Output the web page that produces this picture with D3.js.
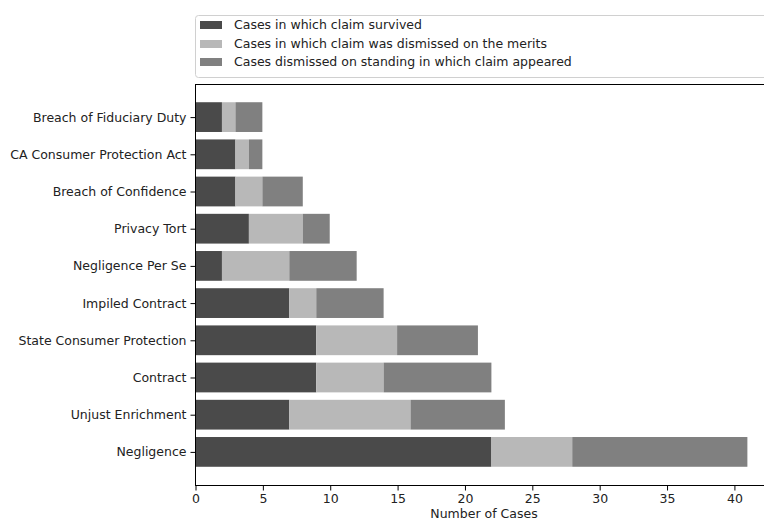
<!DOCTYPE html>
<html>
<head>
<meta charset="utf-8">
<script src="https://cdn.jsdelivr.net/npm/d3@7"></script>
<style>
  html, body { margin: 0; padding: 0; background: #fff; }
  svg { display: block; font-family: "DejaVu Sans", sans-serif; }
</style>
</head>
<body>
<svg id="chart" width="764" height="520"></svg>
<script>
// Claim types, listed top to bottom
const categories = [
  "Breach of Fiduciary Duty",
  "CA Consumer Protection Act",
  "Breach of Confidence",
  "Privacy Tort",
  "Negligence Per Se",
  "Impiled Contract",
  "State Consumer Protection",
  "Contract",
  "Unjust Enrichment",
  "Negligence"
];
const survived  = [2, 3, 3, 4, 2, 7, 9, 9, 7, 22];
const dismissed = [1, 1, 2, 4, 5, 2, 6, 5, 9, 6];
const standing  = [2, 1, 3, 2, 5, 5, 6, 8, 7, 13];
const seriesNames = [
  "Cases in which claim survived",
  "Cases in which claim was dismissed on the merits",
  "Cases dismissed on standing in which claim appeared"
];
const seriesColors = ["#4a4a4a", "#b8b8b8", "#808080"];
const xTicks = [0, 5, 10, 15, 20, 25, 30, 35, 40];

const FS = 12.5;
const svg = d3.select("#chart");
const m = { left: 195, right: 775, top: 84, bottom: 485 };

const totals = categories.map((_, i) => survived[i] + dismissed[i] + standing[i]);
const xMax = d3.max(totals) * 1.05;
const x = d3.scaleLinear().domain([0, xMax]).range([m.left, m.right]);

// Each category occupies 1 unit, bar height 0.8, 5% padding on the data range
const n = categories.length;
const lo = -0.4 - 0.049 * 10, hi = (n - 1) + 0.4 + 0.049 * 10;
const yv = d3.scaleLinear().domain([hi, lo]).range([m.top, m.bottom]);
// category position: Negligence at bottom (0), first listed at top
const idx = i => n - 1 - i;

const rows = categories.map((c, i) => ({ c, i, vals: [survived[i], dismissed[i], standing[i]] }));
const stack = d3.stack().keys([0, 1, 2]).value((d, k) => d.vals[k]);
const layers = stack(rows);

const g = svg.append("g");
layers.forEach((layer, k) => {
  g.selectAll(null).data(layer).enter().append("rect")
    .attr("x", d => x(d[0]))
    .attr("width", d => x(d[1]) - x(d[0]))
    .attr("y", d => yv(idx(d.data.i) + 0.4))
    .attr("height", d => yv(idx(d.data.i) - 0.4) - yv(idx(d.data.i) + 0.4))
    .attr("fill", seriesColors[k]);
});

// Axes frame
const frame = svg.append("g").attr("stroke", "#000").attr("stroke-width", 1).attr("fill", "none");
frame.append("line").attr("x1", m.left).attr("x2", m.right).attr("y1", m.top + 0.5).attr("y2", m.top + 0.5);
frame.append("line").attr("x1", m.left).attr("x2", m.right).attr("y1", m.bottom + 0.5).attr("y2", m.bottom + 0.5);
frame.append("line").attr("x1", m.left + 0.5).attr("x2", m.left + 0.5).attr("y1", m.top).attr("y2", m.bottom + 1);
frame.append("line").attr("x1", m.right + 0.5).attr("x2", m.right + 0.5).attr("y1", m.top).attr("y2", m.bottom + 1);

// X axis
const xAxis = d3.axisBottom(x).tickValues(xTicks).tickSize(5).tickPadding(4).tickFormat(d3.format("d"));
const xg = svg.append("g").attr("transform", `translate(0.5,${m.bottom + 0.5})`).call(xAxis);
xg.select(".domain").remove();
xg.selectAll("text").attr("font-size", FS).attr("fill", "#222").attr("font-family", "DejaVu Sans, sans-serif");

// Y axis
const yBand = d3.scalePoint().domain(categories).range([yv(n - 1), yv(0)]);
const yAxis = d3.axisLeft(yBand).tickSize(5).tickPadding(4);
const yg = svg.append("g").attr("transform", `translate(${m.left + 0.5},0)`).call(yAxis);
yg.select(".domain").remove();
yg.selectAll("text").attr("font-size", FS).attr("fill", "#222").attr("font-family", "DejaVu Sans, sans-serif");

// X axis title
svg.append("text")
  .attr("x", (m.left + m.right) / 2 - 1)
  .attr("y", 518)
  .attr("text-anchor", "middle")
  .attr("font-size", FS)
  .attr("fill", "#222")
  .text("Number of Cases");

// Legend
const lg = svg.append("g");
lg.append("rect")
  .attr("x", 195.5).attr("y", 15.5).attr("width", 600).attr("height", 62)
  .attr("rx", 3).attr("fill", "#fff").attr("stroke", "#d0d0d0");
const legendY = [25, 44, 62];
seriesNames.forEach((name, k) => {
  lg.append("rect").attr("x", 200).attr("y", legendY[k] - 4).attr("width", 22).attr("height", 8)
    .attr("fill", seriesColors[k]);
  lg.append("text").attr("x", 234).attr("y", legendY[k]).attr("dy", "0.35em")
    .attr("font-size", FS).attr("fill", "#222").text(name);
});
</script>
</body>
</html>
